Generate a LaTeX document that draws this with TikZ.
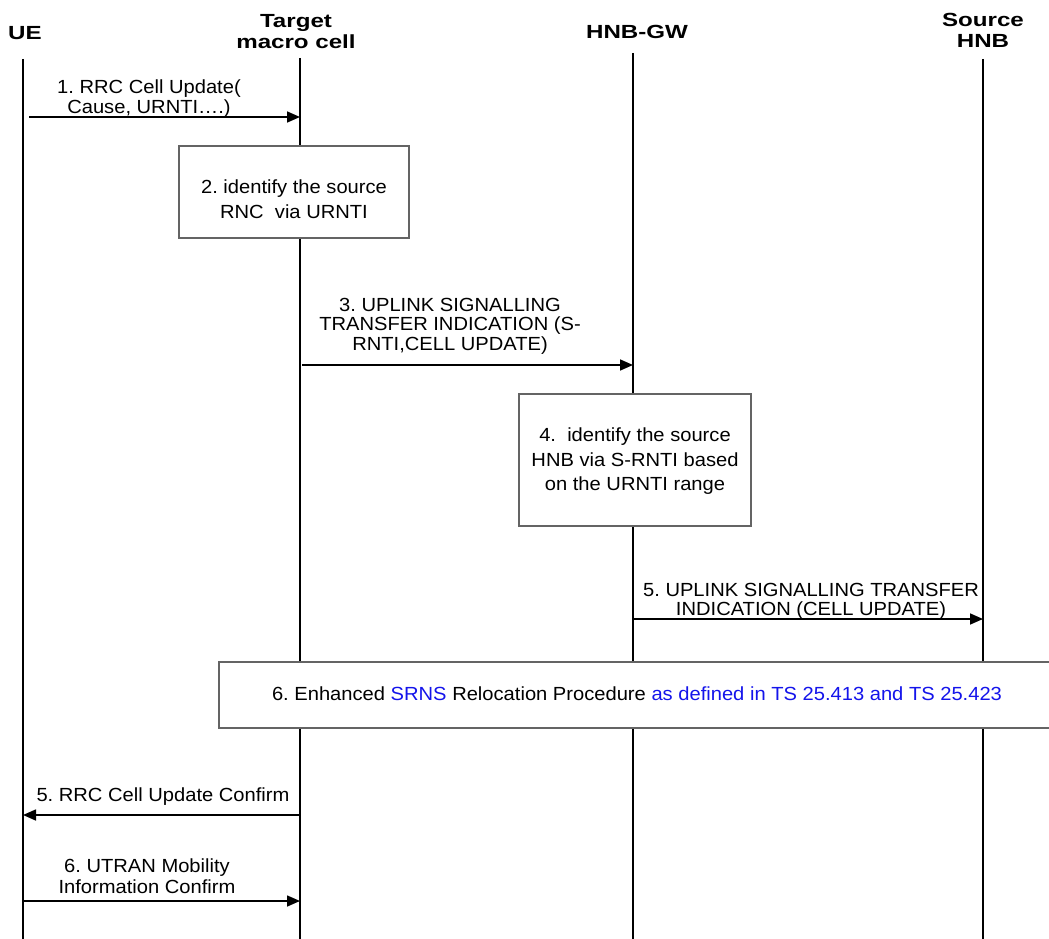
\documentclass[tikz,border=0pt]{standalone}
\usepackage{fontspec}
\setmainfont{Liberation Sans}[FakeStretch=1.06]
\newfontfamily\headfont{Liberation Sans}[FakeStretch=1.27]
\usetikzlibrary{arrows.meta}
\definecolor{linkblue}{RGB}{20,20,235}
\definecolor{boxgray}{RGB}{100,100,100}
\frenchspacing
\begin{document}
\begin{tikzpicture}[x=1pt,y=-1pt,
  head/.style={font=\headfont\bfseries\fontsize{19}{21.5}\selectfont, align=center, inner sep=0pt, anchor=north},
  msg/.style={font=\fontsize{19}{19.5}\selectfont, align=center, inner sep=0pt, anchor=north},
  boxtxt/.style={font=\fontsize{19}{24.5}\selectfont, align=center, inner sep=0pt, anchor=north},
  lifeline/.style={line width=2.2pt},
  arrowline/.style={line width=1.6pt, -{Triangle[length=13pt,width=11pt]}},
  procbox/.style={draw=boxgray, line width=1.2pt, fill=white, inner sep=0pt}
]
\useasboundingbox (0,0) rectangle (1049,939);
\clip (0,0) rectangle (1049,939);
\fill[white] (0,0) rectangle (1049,939);

% entities
\node[head] (ue)   at (25,26)  {UE};
\node[head] (tmc)  at (296,14) {Target\\macro cell};
\node[head] (gw)   at (637,25) {HNB-GW};
\node[head] (shnb) at (983,13) {Source\\HNB};

% lifelines
\coordinate (ue-top)   at (23,59);  \coordinate (ue-end)   at (23,939);
\coordinate (tmc-top)  at (300,58); \coordinate (tmc-end)  at (300,939);
\coordinate (gw-top)   at (633,53); \coordinate (gw-end)   at (633,939);
\coordinate (shnb-top) at (983,59); \coordinate (shnb-end) at (983,939);
\draw[lifeline] (ue-top) -- (ue-end);
\draw[lifeline] (tmc-top) -- (tmc-end);
\draw[lifeline] (gw-top) -- (gw-end);
\draw[lifeline] (shnb-top) -- (shnb-end);

% 1. RRC Cell Update
\coordinate (m1a) at (29,117); \coordinate (m1b) at (300,117);
\draw[arrowline] (m1a) -- (m1b);
\node[msg] (m1l) at (149,80) {1. RRC Cell Update(\\Cause, URNTI….)};

% 2. source RNC identification
\node[procbox, minimum width=230pt, minimum height=92pt] (b2) at (294,192) {};
\node[boxtxt] (b2t) at (294,180) {2. identify the source\\RNC\ \ via URNTI};

% 3. uplink signalling transfer to HNB-GW
\coordinate (m3a) at (302,365); \coordinate (m3b) at (633,365);
\draw[arrowline] (m3a) -- (m3b);
\node[msg] (m3l) at (450,298) {3. UPLINK SIGNALLING\\TRANSFER INDICATION (S-\\RNTI,CELL UPDATE)};

% 4. source HNB identification
\node[procbox, minimum width=232pt, minimum height=132pt] (b4) at (635,460) {};
\node[boxtxt] (b4t) at (635,428) {4.\ \ identify the source\\HNB via S-RNTI based\\on the URNTI range};

% 5. uplink signalling transfer to source HNB
\coordinate (m5a) at (634,619); \coordinate (m5b) at (983,619);
\node[msg] (m5l) at (811,583) {5. UPLINK SIGNALLING TRANSFER\\INDICATION (CELL UPDATE)};
\draw[arrowline] (m5a) -- (m5b);

% 6. relocation procedure
\node[procbox, minimum width=851pt, minimum height=66pt] (b6) at (644.5,695) {};
\node[boxtxt] (b6t) at (637,687) {6. Enhanced \textcolor{linkblue}{SRNS} Relocation Procedure \textcolor{linkblue}{as defined in TS 25.413 and TS 25.423}};

% 5. RRC Cell Update Confirm
\coordinate (m7a) at (300,815); \coordinate (m7b) at (23,815);
\draw[arrowline] (m7a) -- (m7b);
\node[msg] (m7l) at (163,788) {5. RRC Cell Update Confirm};

% 6. UTRAN Mobility Information Confirm
\coordinate (m8a) at (23,901); \coordinate (m8b) at (300,901);
\draw[arrowline] (m8a) -- (m8b);
\node[msg, font=\fontsize{19}{21}\selectfont] (m8l) at (147,859) {6. UTRAN Mobility\\Information Confirm};
\end{tikzpicture}
\end{document}
